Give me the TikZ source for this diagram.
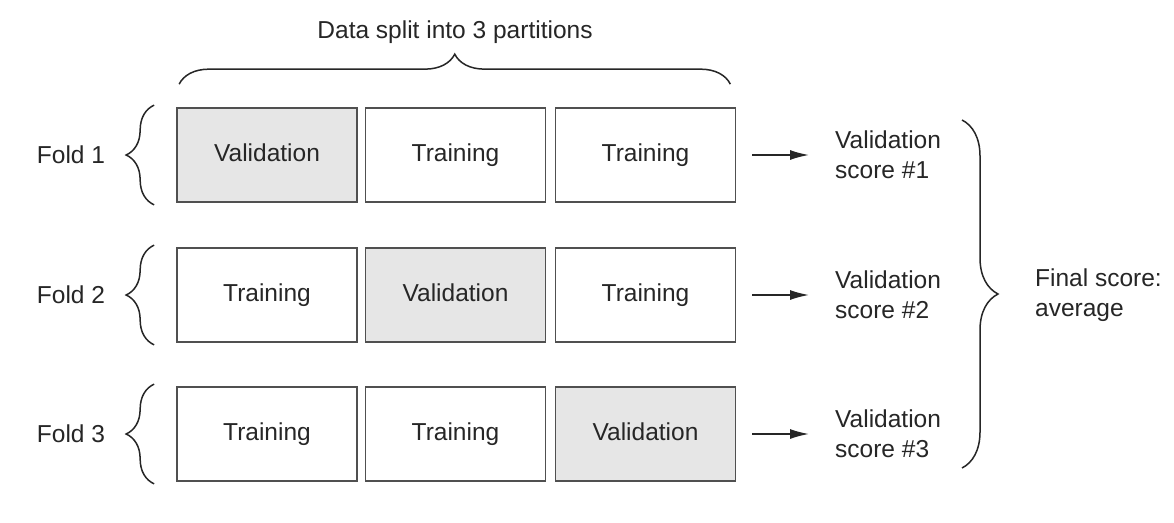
\documentclass[tikz,border=0pt]{standalone}
\usepackage{fontspec}
\setmainfont{Liberation Sans}
\usetikzlibrary{decorations.pathreplacing,arrows.meta}
\definecolor{txt}{HTML}{262626}
\definecolor{edge}{HTML}{505050}
\definecolor{valfill}{HTML}{E6E6E6}
\begin{document}
\begin{tikzpicture}[x=1pt,y=-1pt,
  fold/.style={draw=edge,line width=1.7pt,minimum width=180pt,minimum height=94pt,inner sep=0pt,text=txt,text height=18pt,text depth=5pt,font=\fontsize{24.5}{28}\selectfont},
  valbox/.style={fold,fill=valfill},
  trainbox/.style={fold,fill=white},
  lbl/.style={text=txt,font=\fontsize{24.5}{30}\selectfont,inner sep=0pt},
  score/.style={lbl,align=left,anchor=west},
  bracestyle/.style={draw=txt,line width=1.5pt,decorate,decoration={brace,amplitude=#1}},
  arr/.style={draw=txt,line width=1.6pt,-{Latex[length=19pt,width=10pt]}}
]
\useasboundingbox[fill=white] (0,0) rectangle (1174,522);
% title
\node[lbl] (title) at (455,32) {Data split into 3 partitions};
% boxes
\node[valbox]   (b11) at (267,155) {Validation};
\node[trainbox] (b12) at (455.5,155) {Training};
\node[trainbox] (b13) at (645.5,155) {Training};
\node[trainbox] (b21) at (267,295) {Training};
\node[valbox]   (b22) at (455.5,295) {Validation};
\node[trainbox] (b23) at (645.5,295) {Training};
\node[trainbox] (b31) at (267,434) {Training};
\node[trainbox] (b32) at (455.5,434) {Training};
\node[valbox]   (b33) at (645.5,434) {Validation};
% fold labels
\node[lbl] (f1) at (71,155) {Fold 1};
\node[lbl] (f2) at (71,295) {Fold 2};
\node[lbl] (f3) at (71,434) {Fold 3};
% left braces
\draw[bracestyle=28pt] ([xshift=-22pt,yshift=-2pt]b11.south west) -- ([xshift=-22pt,yshift=2pt]b11.north west);
\draw[bracestyle=28pt] ([xshift=-22pt,yshift=-2pt]b21.south west) -- ([xshift=-22pt,yshift=2pt]b21.north west);
\draw[bracestyle=28pt] ([xshift=-22pt,yshift=-2pt]b31.south west) -- ([xshift=-22pt,yshift=2pt]b31.north west);
% top brace
\draw[bracestyle=30pt] ([xshift=3pt,yshift=23pt]b11.north west) -- ([xshift=-6pt,yshift=23pt]b13.north east);
% scores
\node[score] (s1) at (835,155) {Validation\\score \#1};
\node[score] (s2) at (835,295) {Validation\\score \#2};
\node[score] (s3) at (835,434) {Validation\\score \#3};
\draw[arr] ([xshift=16pt]b13.east) -- ([xshift=-26pt]s1.west);
\draw[arr] ([xshift=16pt]b23.east) -- ([xshift=-26pt]s2.west);
\draw[arr] ([xshift=16pt]b33.east) -- ([xshift=-26pt]s3.west);
% right brace
\coordinate (rt) at (962,120);
\coordinate (rb) at (962,468);
\draw[bracestyle=36pt] (rt) -- (rb);
\node[score] (fin) at (1035,295) {Final score:\\average};
\end{tikzpicture}
\end{document}
